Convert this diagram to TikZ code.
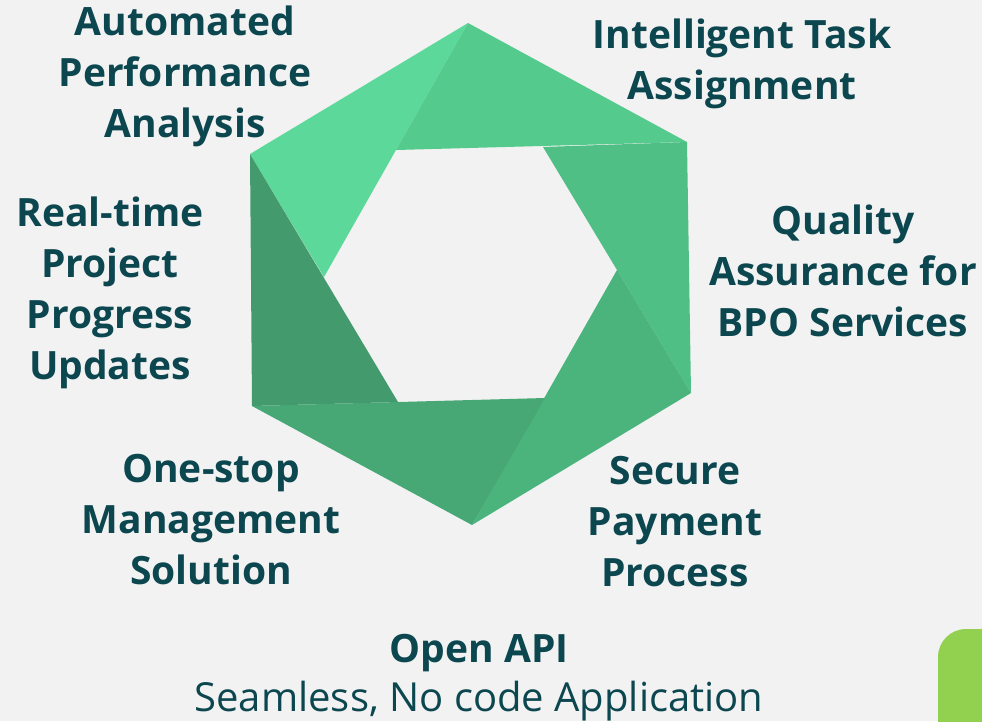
\documentclass[tikz,border=0pt]{standalone}
\usepackage{fontspec}
\setmainfont{Open Sans}
\begin{document}
\begin{tikzpicture}[x=1pt,y=-1pt]
\definecolor{bg}{HTML}{F2F2F2}
\definecolor{ink}{RGB}{12,71,80}
\definecolor{gA}{RGB}{91,216,154}
\definecolor{gB}{RGB}{85,202,141}
\definecolor{gC}{RGB}{80,191,134}
\definecolor{gD}{RGB}{75,180,125}
\definecolor{gE}{RGB}{71,168,117}
\definecolor{gF}{RGB}{67,155,109}
\definecolor{lime}{RGB}{146,208,80}
% anchor=base sits on the baseline of the last line
\tikzset{
  lbl/.style={text=ink, font=\fontsize{39}{51}\selectfont\bfseries, align=center, anchor=base, inner sep=0pt},
  sub/.style={text=ink, font=\fontsize{40}{51}\selectfont, align=center, anchor=base, inner sep=0pt}
}
% page
\fill[bg] (0,0) rectangle (982,721);
\useasboundingbox (0,0) rectangle (982,721);

% outer hexagon corners
\coordinate (OT)  at (468,23);
\coordinate (OUR) at (687,142);
\coordinate (OLR) at (691,393);
\coordinate (OB)  at (472,525);
\coordinate (OLL) at (252,406);
\coordinate (OUL) at (250,154);
% inner hexagon corners
\coordinate (IUL) at (396,150);
\coordinate (IUR) at (543,147);
\coordinate (IR)  at (617,270);
\coordinate (ILR) at (545,398);
\coordinate (ILL) at (398,402);
\coordinate (IL)  at (324,277);

% six twisted blades
\fill[gA] (OT) -- (OUL) -- (IL) -- cycle;
\fill[gB] (OUR) -- (OT) -- (IUL) -- cycle;
\fill[gC] (OLR) -- (OUR) -- (IUR) -- cycle;
\fill[gD] (OB) -- (OLR) -- (IR) -- cycle;
\fill[gE] (OLL) -- (OB) -- (ILR) -- cycle;
\fill[gF] (OUL) -- (OLL) -- (ILL) -- cycle;

% labels
\node[lbl] (auto) at (185,137) {Automated\\Performance\\Analysis};
\node[lbl] (task) at (742,99) {Intelligent Task\\Assignment};
\node[lbl] (qa)   at (843,336) {Quality\\Assurance for\\BPO Services};
\node[lbl] (rt)   at (110,379) {Real-time\\Project\\Progress\\Updates};
\node[lbl] (one)  at (211,584) {One-stop\\Management\\Solution};
\node[lbl] (pay)  at (675,586) {Secure\\Payment\\Process};
\node[lbl] (api)  at (479,662) {Open API};
\node[sub] (seam) at (479,711) {Seamless, No code Application};

% corner tab
\begin{scope}
\clip (0,0) rectangle (982,721);
\fill[lime, rounded corners=28pt] (938,629) rectangle (1030,780);
\end{scope}
\end{tikzpicture}
\end{document}
